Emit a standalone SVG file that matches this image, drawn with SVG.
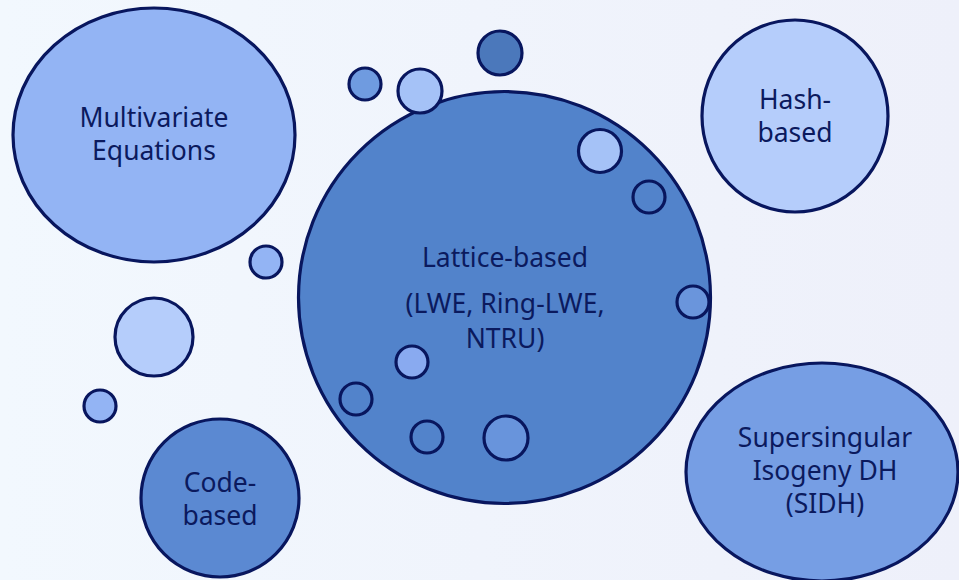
<svg xmlns="http://www.w3.org/2000/svg" width="959" height="580" viewBox="0 0 959 580">
  <defs>
    <linearGradient id="bg" x1="0" y1="0" x2="1" y2="0">
      <stop offset="0" stop-color="#f2f8fe"/>
      <stop offset="1" stop-color="#eef0fa"/>
    </linearGradient>
  </defs>
  <style>
    .n { stroke: #08165e; stroke-width: 3.2; }
    .t { font-family: "Noto Sans", "Open Sans", sans-serif; font-size: 26.5px; fill: #0b1a5e; text-anchor: middle; }
  </style>
  <rect width="959" height="580" fill="url(#bg)"/>

  <g id="connectors"/>

  <g id="multivariate">
    <ellipse class="n" cx="154" cy="135" rx="141" ry="127" fill="#93b4f4"/>
    <text class="t" x="154" y="127">Multivariate</text>
    <text class="t" x="154" y="160">Equations</text>
  </g>

  <g id="lattice">
    <circle class="n" cx="504.5" cy="297.5" r="206" fill="#5283cb"/>
    <text class="t" x="505" y="267">Lattice-based</text>
    <text class="t" x="505" y="313">(LWE, Ring-LWE,</text>
    <text class="t" x="505" y="348">NTRU)</text>
  </g>

  <g id="hash">
    <ellipse class="n" cx="795" cy="116" rx="93" ry="96" fill="#b5cdfb"/>
    <text class="t" x="795" y="109">Hash-</text>
    <text class="t" x="795" y="142">based</text>
  </g>

  <g id="code">
    <circle class="n" cx="220" cy="498" r="79" fill="#5b89d2"/>
    <text class="t" x="220" y="492">Code-</text>
    <text class="t" x="220" y="525">based</text>
  </g>

  <g id="sidh">
    <ellipse class="n" cx="822" cy="472" rx="136" ry="109" fill="#769ee4"/>
    <text class="t" x="825" y="447">Supersingular</text>
    <text class="t" x="825" y="480">Isogeny DH</text>
    <text class="t" x="825" y="513">(SIDH)</text>
  </g>

  <!-- scattered bubbles -->
  <g id="bubble-1"><circle class="n" cx="365" cy="84" r="16" fill="#6f9be0"/></g>
  <g id="bubble-2"><circle class="n" cx="420" cy="91" r="22" fill="#a5c2f7"/></g>
  <g id="bubble-3"><circle class="n" cx="500" cy="53" r="22" fill="#4b78bb"/></g>
  <g id="bubble-4"><circle class="n" cx="600" cy="151" r="21.5" fill="#a5c2f7"/></g>
  <g id="bubble-5"><circle class="n" cx="649" cy="197" r="16" fill="#5283cb"/></g>
  <g id="bubble-6"><circle class="n" cx="693" cy="302" r="16" fill="#6a95dc"/></g>
  <g id="bubble-7"><circle class="n" cx="412" cy="362" r="16" fill="#89aaf0"/></g>
  <g id="bubble-8"><circle class="n" cx="356" cy="399" r="16" fill="#5283cb"/></g>
  <g id="bubble-9"><circle class="n" cx="427" cy="437" r="16" fill="#5283cb"/></g>
  <g id="bubble-10"><circle class="n" cx="506" cy="438" r="22" fill="#6894dc"/></g>
  <g id="bubble-11"><circle class="n" cx="266" cy="262" r="16" fill="#93b4f4"/></g>
  <g id="bubble-12"><circle class="n" cx="154" cy="337" r="39" fill="#b5cdfb"/></g>
  <g id="bubble-13"><circle class="n" cx="100" cy="406" r="16" fill="#93b4f4"/></g>
</svg>
